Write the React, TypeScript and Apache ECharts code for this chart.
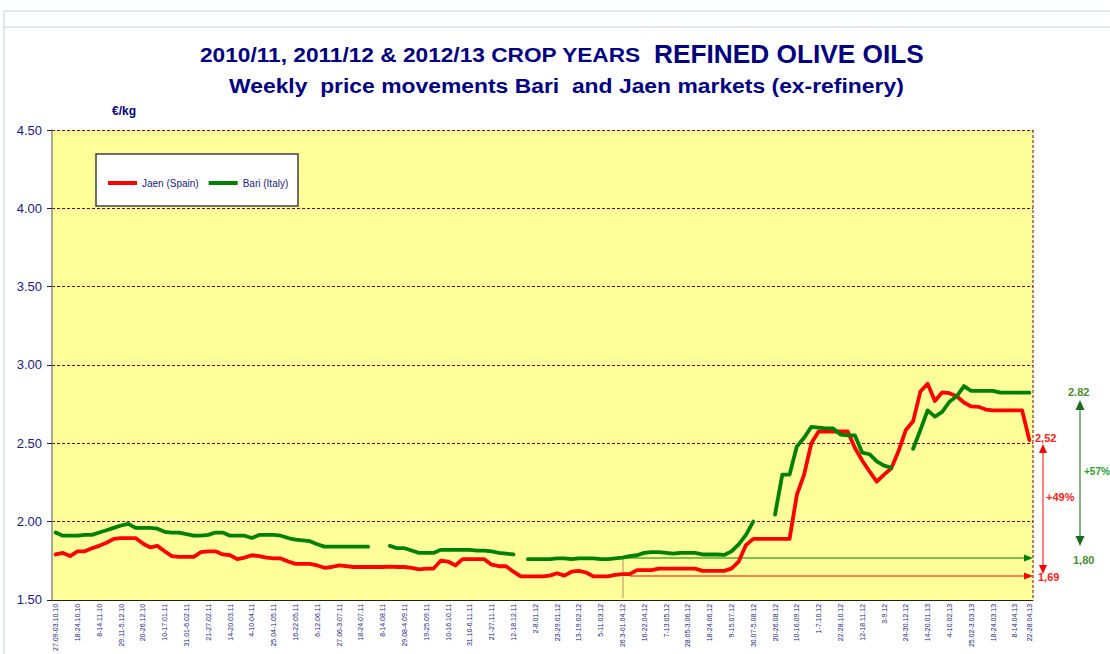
import React, { useEffect, useRef } from 'react';
import * as echarts from 'echarts';

// Weekly categories: 27.09.2010 ... 22.04.2013 (135 weeks)
const weekCount = 135;
const labelWeeks = [0, 3, 6, 9, 12, 15, 18, 21, 24, 27, 30, 33, 36, 39, 42, 45, 48, 51, 54, 57, 60, 63, 66, 69, 72, 75, 78, 81, 84, 87, 90, 93, 96, 99, 102, 105, 108, 111, 114, 117, 120, 123, 126, 129, 132, 134];
const tickLabels = [
  '27.09-03.10.10', '18-24.10.10', '8-14.11.10', '29.11-5.12.10', '20-26.12.10', '10-17.01.11',
  '31.01-6.02.11', '21-27.02.11', '14-20.03.11', '4-10.04.11', '25.04-1.05.11', '16-22.05.11',
  '6-12.06.11', '27.06-3.07.11', '18-24.07.11', '8-14.08.11', '29.08-4.09.11', '19-25.09.11',
  '10-16.10.11', '31.10-6.11.11', '21-27.11.11', '12-18.12.11', '2-8.01.12', '23-29.01.12',
  '13-19.02.12', '5-11.03.12', '26.3-01.04.12', '16-22.04.12', '7-13.05.12', '28.05-3.06.12',
  '18-24.06.12', '9-15.07.12', '30.07-5.08.12', '20-26.08.12', '10-16.09.12', '1-7.10.12',
  '22-28.10.12', '12-18.11.12', '3-9.12', '24-30.12.12', '14-20.01.13', '4-10.02.13',
  '25.02-3.03.13', '18-24.03.13', '8-14.04.13', '22-28.04.13'
];

const jaen = [
  1.79, 1.80, 1.78, 1.81, 1.81, 1.83, 1.845, 1.865, 1.89, 1.895,
  1.895, 1.895, 1.86, 1.835, 1.845, 1.81, 1.78, 1.775, 1.775, 1.775,
  1.805, 1.81, 1.81, 1.79, 1.785, 1.76, 1.77, 1.785, 1.78, 1.77,
  1.765, 1.765, 1.745, 1.73, 1.73, 1.73, 1.72, 1.705, 1.71, 1.72,
  1.715, 1.71, 1.71, 1.71, 1.71, 1.71, 1.713, 1.71, 1.71, 1.705,
  1.695, 1.70, 1.70, 1.75, 1.745, 1.72, 1.76, 1.76, 1.76, 1.76,
  1.725, 1.715, 1.715, 1.68, 1.65, 1.65, 1.65, 1.65, 1.655, 1.67,
  1.655, 1.68, 1.685, 1.675, 1.65, 1.65, 1.65, 1.66, 1.665, 1.665,
  1.69, 1.69, 1.69, 1.70, 1.70, 1.70, 1.70, 1.70, 1.70, 1.685,
  1.685, 1.685, 1.685, 1.70, 1.745, 1.85, 1.89, 1.89, 1.89, 1.89,
  1.89, 1.89, 2.17, 2.30, 2.50, 2.575, 2.575, 2.575, 2.575, 2.575,
  2.47, 2.39, 2.32, 2.255, 2.30, 2.34, 2.45, 2.585, 2.64, 2.83,
  2.88, 2.77, 2.825, 2.82, 2.80, 2.76, 2.735, 2.733, 2.715, 2.71,
  2.71, 2.71, 2.71, 2.71, 2.52
];

const bari = [
  1.93, 1.91, 1.91, 1.91, 1.915, 1.915, 1.93, 1.945, 1.96, 1.975,
  1.985, 1.96, 1.96, 1.96, 1.955, 1.935, 1.93, 1.93, 1.92, 1.91,
  1.91, 1.915, 1.93, 1.93, 1.91, 1.91, 1.91, 1.895, 1.915, 1.915,
  1.915, 1.91, 1.895, 1.885, 1.88, 1.875, 1.855, 1.84, 1.84, 1.84,
  1.84, 1.84, 1.84, 1.84, null, null, 1.845, 1.83, 1.83, 1.815,
  1.80, 1.80, 1.80, 1.82, 1.82, 1.82, 1.82, 1.82, 1.815, 1.815,
  1.81, 1.80, 1.795, 1.79, null, 1.76, 1.76, 1.76, 1.76, 1.765,
  1.765, 1.76, 1.765, 1.765, 1.765, 1.76, 1.76, 1.765, 1.77, 1.78,
  1.785, 1.80, 1.805, 1.805, 1.80, 1.795, 1.80, 1.80, 1.80, 1.79,
  1.79, 1.79, 1.787, 1.81, 1.855, 1.915, 2.00, null, null, 2.045,
  2.30, 2.30, 2.48, 2.535, 2.605, 2.60, 2.595, 2.595, 2.555, 2.55,
  2.55, 2.44, 2.43, 2.385, 2.357, 2.345, null, null, 2.465, 2.585,
  2.71, 2.67, 2.70, 2.765, 2.80, 2.865, 2.835, 2.835, 2.835, 2.835,
  2.823, 2.823, 2.823, 2.823, 2.823
];

const seriesNames = ['Jaen (Spain)', 'Bari (Italy)'];
const yTicks = { min: 1.5, max: 4.5, interval: 0.5 };

const NAVY = '#000080';
const FONT = '"Liberation Sans", Arial, sans-serif';

export default function App() {
  const ref = useRef<HTMLDivElement>(null);

  useEffect(() => {
    if (!ref.current) return;
    const chart = echarts.init(ref.current, undefined, { renderer: 'svg' });
    const labelMap = new Map<number, string>();
    labelWeeks.forEach((w, k) => labelMap.set(w, tickLabels[k]));
    const categories = Array.from({ length: weekCount }, (_, i) => labelMap.get(i) ?? `w${i}`);

    const annoText = (text: string, x: number, y: number, color: string, size = 11) => ({
      type: 'text', x, y,
      style: { text, fill: color, font: `bold ${size}px ${FONT}`, align: 'left', verticalAlign: 'middle' },
    });
    const ln = (x1: number, y1: number, x2: number, y2: number, color: string, w = 1) => ({
      type: 'line', shape: { x1, y1, x2, y2 }, style: { stroke: color, lineWidth: w },
    });
    const tri = (pts: number[][], color: string) => ({
      type: 'polygon', shape: { points: pts }, style: { fill: color },
    });

    chart.setOption({
      animation: false,
      backgroundColor: '#ffffff',
      grid: {
        left: 52, right: 77, top: 130, bottom: 54,
        show: true, backgroundColor: '#ffff99', borderWidth: 0,
      },
      legend: {
        data: seriesNames,
        left: 103, top: 173,
        icon: 'rect', itemWidth: 29, itemHeight: 4, itemGap: 10,
        textStyle: { color: '#1a1a80', fontSize: 10, fontFamily: FONT },
        z: 10,
      },
      xAxis: {
        type: 'category',
        data: categories,
        boundaryGap: true,
        axisLine: { lineStyle: { color: '#222', width: 1 } },
        axisTick: { interval: 0, length: 3, lineStyle: { color: '#222' } },
        axisLabel: {
          interval: (index: number) => labelMap.has(index),
          formatter: (v: string) => (v.startsWith('w') ? '' : v),
          rotate: 90, fontSize: 7, color: '#1a1a80', fontFamily: FONT, margin: 4,
        },
        splitLine: { show: false },
      },
      yAxis: {
        type: 'value',
        min: yTicks.min, max: yTicks.max, interval: yTicks.interval,
        axisLine: { show: true, lineStyle: { color: '#8a8a8a', width: 1.5 } },
        axisTick: { show: true, length: 5, lineStyle: { color: '#222' } },
        axisLabel: {
          formatter: (v: number) => v.toFixed(2),
          color: '#1a1a80', fontSize: 13, fontFamily: FONT, margin: 10,
        },
        splitLine: { lineStyle: { color: '#800000', type: [3, 2], width: 1 } },
      },
      series: [
        {
          name: seriesNames[0], type: 'line', data: jaen, symbol: 'none',
          connectNulls: false, color: '#ff0000',
          lineStyle: { width: 3.8, color: '#ff0000', cap: 'round', join: 'round' },
        },
        {
          name: seriesNames[1], type: 'line', data: bari, symbol: 'none',
          connectNulls: false, color: '#008000',
          lineStyle: { width: 3.8, color: '#008000', cap: 'round', join: 'round' },
        },
      ],
      graphic: {
        z: 3,
        elements: [
          // outer frame lines
          ln(4, 11, 1110, 11, '#c5ccd4', 1),
          ln(4, 27, 1110, 27, '#c5ccd4', 1),
          ln(4, 11, 4, 654, '#c5ccd4', 1),
          // titles
          {
            type: 'text', x: 200, y: 55, scaleX: 1.08,
            style: { text: '2010/11, 2011/12 & 2012/13 CROP YEARS', fill: NAVY, font: `bold 21px ${FONT}`, align: 'left', verticalAlign: 'middle' },
          },
          {
            type: 'text', x: 654, y: 54, scaleX: 1.05,
            style: { text: 'REFINED OLIVE OILS', fill: NAVY, font: `bold 25px ${FONT}`, align: 'left', verticalAlign: 'middle' },
          },
          {
            type: 'text', x: 229, y: 86, scaleX: 1.09,
            style: { text: 'Weekly  price movements Bari  and Jaen markets (ex-refinery)', fill: NAVY, font: `bold 21px ${FONT}`, align: 'left', verticalAlign: 'middle' },
          },
          {
            type: 'text', x: 112, y: 111,
            style: { text: '€/kg', fill: NAVY, font: `bold 12px ${FONT}`, align: 'left', verticalAlign: 'middle' },
          },
          // legend box
          {
            type: 'rect', shape: { x: 96, y: 154, width: 202, height: 52 },
            style: { fill: '#ffffff', stroke: '#404040', lineWidth: 1.5 },
          },
          // right plot border
          {
            type: 'line', shape: { x1: 1033, y1: 130, x2: 1033, y2: 600 },
            style: { stroke: '#800000', lineWidth: 1, lineDash: [3, 2] },
          },
          // reference week marker
          ln(623, 559, 623, 598, '#c08a6a', 1),
          // horizontal arrows
          ln(623, 558, 1026, 558, '#008000', 1),
          tri([[1033, 558], [1024, 554.5], [1024, 561.5]], '#008000'),
          ln(630, 576, 1026, 576, '#ff0000', 1),
          tri([[1033, 576], [1024, 572.5], [1024, 579.5]], '#ff0000'),
          // red double arrow
          ln(1043, 450, 1043, 568, '#ff0000', 1),
          tri([[1043, 444], [1039, 453], [1047, 453]], '#ff0000'),
          tri([[1043, 574], [1039, 565], [1047, 565]], '#ff0000'),
          // green double arrow
          ln(1080, 406, 1080, 540, '#5f9a5f', 1.5),
          tri([[1080, 400], [1075.5, 410], [1084.5, 410]], '#1e6b1e'),
          tri([[1080, 546], [1075.5, 536], [1084.5, 536]], '#1e6b1e'),
          // annotation texts
          annoText('2,52', 1035, 438, '#ff2020'),
          annoText('+49%', 1046, 497, '#ff2020'),
          annoText('1,69', 1038, 577, '#ff2020'),
          annoText('2.82', 1068, 392, '#4d8c2e'),
          annoText('1,80', 1073, 560, '#4d8c2e'),
          annoText('+57%', 1084, 471, '#2ca02c', 10),
        ],
      },
    });
    return () => chart.dispose();
  }, []);

  return (
    <div
      ref={ref}
      style={{ position: 'absolute', left: 0, top: 0, width: 1110, height: 654 }}
    />
  );
}
